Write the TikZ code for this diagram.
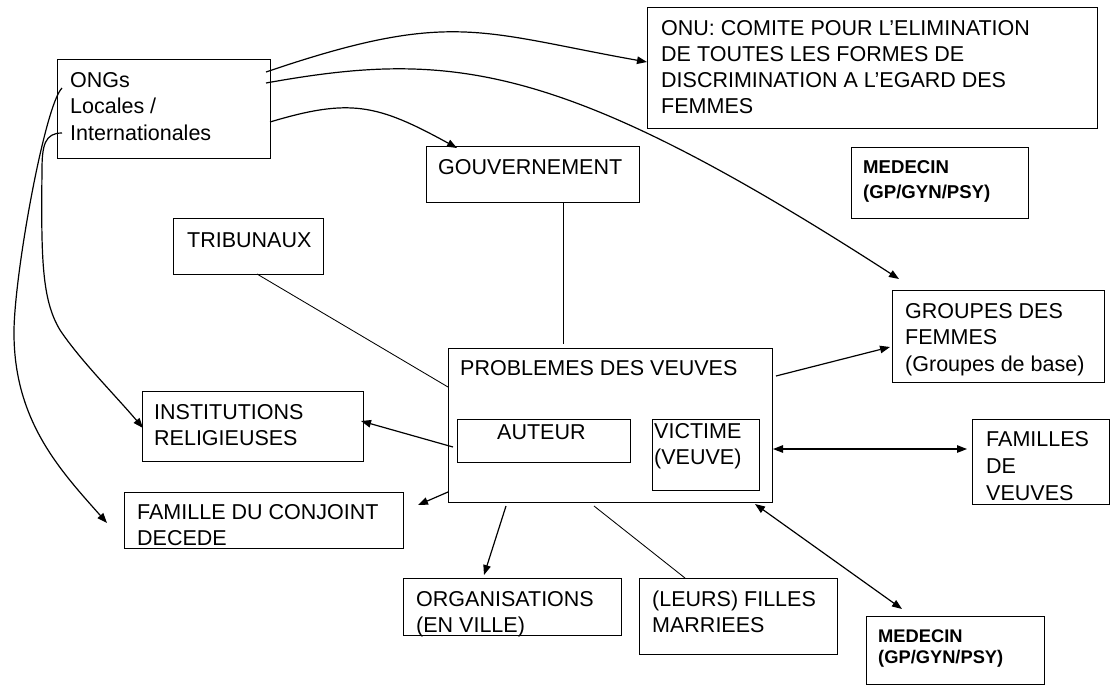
\documentclass[tikz,border=0pt]{standalone}
\usepackage{fontspec}
\setmainfont{Liberation Sans}
\usetikzlibrary{arrows.meta,calc}
\tikzset{
  box/.style={draw, line width=1.1pt, rectangle, inner sep=0pt, anchor=north west},
  txt/.style={anchor=north west, inner sep=0pt, align=left, font=\fontsize{21.5}{26.5}\selectfont},
  btxt/.style={anchor=north west, inner sep=0pt, align=left, font=\bfseries\fontsize{18.6}{25}\selectfont},
  btxtb/.style={anchor=north west, inner sep=0pt, align=left, font=\bfseries\fontsize{18.3}{21.7}\selectfont},
  link/.style={line width=1.2pt},
  thinlink/.style={line width=0.85pt},
  arr/.style={link, -{Triangle[length=10pt,width=7.5pt]}},
  darr/.style={link, {Triangle[length=10pt,width=7.5pt]}-{Triangle[length=10pt,width=7.5pt]}}
}
\begin{document}
\begin{tikzpicture}[x=1pt,y=-1pt]
\useasboundingbox (0,0) rectangle (1110,686);
% boxes
\node[box, minimum width=213pt, minimum height=99pt] (ongs) at (57,59) {};
\node[box, minimum width=450pt, minimum height=121pt] (onu) at (647,7) {};
\node[box, minimum width=177pt, minimum height=71pt] (med1) at (851,147) {};
\node[box, minimum width=213pt, minimum height=56pt] (gov) at (426,146) {};
\node[box, minimum width=150pt, minimum height=56pt] (trib) at (173,218) {};
\node[box, minimum width=324pt, minimum height=154pt] (prob) at (448,348) {};
\node[box, minimum width=173pt, minimum height=43pt] (aut) at (457,419) {};
\node[box, minimum width=107pt, minimum height=71pt] (vic) at (652,419) {};
\node[box, minimum width=221pt, minimum height=70pt] (inst) at (142,391) {};
\node[box, minimum width=279pt, minimum height=56pt] (fam) at (124,492) {};
\node[box, minimum width=218pt, minimum height=57pt] (org) at (403,578) {};
\node[box, minimum width=198pt, minimum height=76pt] (fil) at (639,578) {};
\node[box, minimum width=212pt, minimum height=92pt] (grp) at (892,290) {};
\node[box, minimum width=137pt, minimum height=85pt] (fams) at (972,419) {};
\node[box, minimum width=178pt, minimum height=68pt] (med2) at (866,616) {};
% texts
\node[txt] (ongs-t) at (70,68.45) {\strut ONGs\\Locales /\\Internationales};
\node[txt, font=\fontsize{21.5}{26}\selectfont] (onu-t) at (661,17.45) {\strut ONU: COMITE POUR L’ELIMINATION\\DE TOUTES LES FORMES DE\\DISCRIMINATION A L’EGARD DES\\FEMMES};
\node[btxt] (med1-t) at (863,155.5) {\strut MEDECIN\\(GP/GYN/PSY)};
\node[txt] (gov-t) at (438,155.45) {\strut GOUVERNEMENT};
\node[txt] (trib-t) at (187,228.45) {\strut TRIBUNAUX};
\node[txt] (prob-t) at (460,356.45) {\strut PROBLEMES DES VEUVES};
\node[txt] (aut-t) at (497,420.45) {\strut AUTEUR};
\node[txt, font=\fontsize{21.5}{26}\selectfont] (vic-t) at (654,420.45) {\strut VICTIME\\(VEUVE)};
\node[txt] (inst-t) at (154,400.45) {\strut INSTITUTIONS\\RELIGIEUSES};
\node[txt] (fam-t) at (137,500.45) {\strut FAMILLE DU CONJOINT\\DECEDE};
\node[txt] (org-t) at (416,587.45) {\strut ORGANISATIONS\\(EN VILLE)};
\node[txt] (fil-t) at (652,587.45) {\strut (LEURS) FILLES\\MARRIEES};
\node[txt] (grp-t) at (905,299.45) {\strut GROUPES DES\\FEMMES\\(Groupes de base)};
\node[txt, font=\fontsize{21.5}{27}\selectfont] (fams-t) at (986,427.1) {\strut FAMILLES\\DE\\VEUVES};
\node[btxtb] (med2-t) at (878,626.8) {\strut MEDECIN\\(GP/GYN/PSY)};
% connectors from ONGs
\draw[arr] ($(ongs.north west)+(209,13)$) .. controls (451,9) and (479,32) .. ($(onu.north west)+(0,55)$);
\draw[arr] ($(ongs.north west)+(209,24)$) .. controls (450,50) and (560,60) .. ($(grp.north west)+(7,-11)$);
\draw[arr] ($(ongs.north west)+(213,63)$) .. controls (350,98) and (377,104) .. ($(gov.north west)+(31,2)$);
\draw[arr] ($(ongs.north west)+(5,74)$) .. controls (45,133) and (42,145) .. (42,170)
  .. controls (41,260) and (42,300) .. (60,330)
  .. controls (80,360) and (115,395) .. ($(inst.north west)+(1,37)$);
\draw[arr] ($(ongs.north west)+(5,29)$) .. controls (45,105) and (15,270) .. (14,330)
  .. controls (13,420) and (60,470) .. ($(fam.north west)+(-17,31)$);
% plain lines
\draw[thinlink] ($(trib.north west)+(84,56)$) -- ($(prob.north west)+(0,39)$);
\draw[thinlink] ($(gov.north west)+(137,56)$) -- ($(prob.north west)+(115,-4)$);
\draw[thinlink] ($(prob.north west)+(146,158)$) -- ($(fil.north west)+(46,0)$);
% arrows from PROBLEMES
\draw[arr] ($(prob.north west)+(5,99)$) -- ($(inst.north west)+(219,30)$);
\draw[arr] ($(prob.north west)+(0,144)$) -- ($(fam.north west)+(294,13)$);
\draw[arr] ($(prob.north west)+(328,28)$) -- ($(grp.north west)+(-2,57)$);
\draw[arr] ($(prob.north west)+(58,158)$) -- ($(org.north west)+(81,-3)$);
\draw[darr] ($(prob.north west)+(325,101)$) -- ($(fams.north west)+(-5,30)$);
\draw[darr] ($(prob.north west)+(307,156)$) -- ($(med2.north west)+(36,-7)$);
\end{tikzpicture}
\end{document}
